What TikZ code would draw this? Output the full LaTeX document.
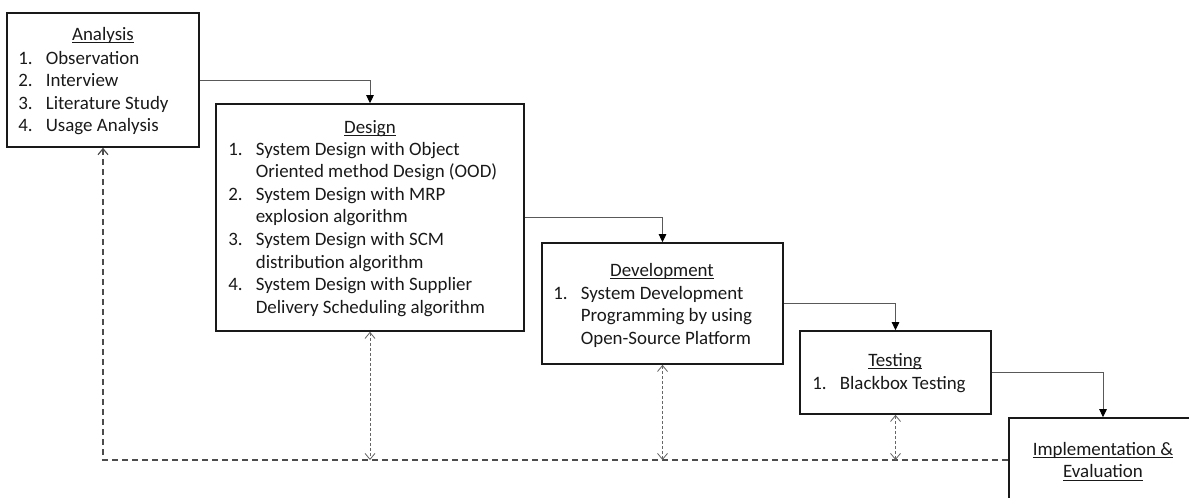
\documentclass[tikz,border=0pt]{standalone}
\usepackage{fontspec}
\setmainfont{Carlito}
\usetikzlibrary{arrows.meta,fit}
% underlined heading whose rule sits just below the baseline
\newcommand{\heading}[1]{\underline{\smash{#1}}}
\newcommand{\itemrows}[1]{\begin{tabular}[t]{@{}p{16.5pt}@{}l@{}}#1\end{tabular}}
\begin{document}
\begin{tikzpicture}[x=0.6pt,y=-0.6pt,
  every node/.style={font=\fontsize{11.35}{13.56}\selectfont, text=black!90},
  phase/.style={draw=black!90, line width=1pt, rectangle, inner sep=0pt},
  caption/.style={anchor=base, inner sep=0pt},
  itemlist/.style={anchor=base west, inner sep=0pt, align=left},
  flow/.style={draw=black!65, line width=0.6pt,
    -{Triangle[length=4.8pt,width=4.5pt,fill=black,color=black]}},
  feedback/.style={draw=black!70, line width=0.7pt, dash pattern=on 3.6pt off 2.4pt,
    {Straight Barb[length=3.6pt,width=6pt]}-},
  recheck/.style={draw=black!60, line width=0.5pt, dash pattern=on 1.8pt off 1.2pt,
    {Straight Barb[length=3.6pt,width=6pt]}-{Straight Barb[length=3.6pt,width=6pt]}}
]
\useasboundingbox (0,0) rectangle (1189,497);
\clip (0,0) rectangle (1189,497);

% corners of the phase boxes
\coordinate (a1) at (7,13);     \coordinate (a2) at (199,147);
\coordinate (d1) at (216,104);  \coordinate (d2) at (524,331);
\coordinate (v1) at (542,243);  \coordinate (v2) at (783,364);
\coordinate (t1) at (800,331);  \coordinate (t2) at (991,414);
\coordinate (i1) at (1009,418); \coordinate (i2) at (1197,502);

% phase boxes
\node[phase, fit=(a1)(a2)] (analysis) {};
\node[phase, fit=(d1)(d2)] (design) {};
\node[phase, fit=(v1)(v2)] (development) {};
\node[phase, fit=(t1)(t2)] (testing) {};
\node[phase, fit=(i1)(i2)] (impl) {};

% box contents
\node[caption] (antitle) at (103,40) {\heading{Analysis}};
\node[itemlist] (anitems) at (18,64) {\itemrows{
  1. & Observation\\
  2. & Interview\\
  3. & Literature Study\\
  4. & Usage Analysis}};

\node[caption] (detitle) at (370,133) {\heading{Design}};
\node[itemlist] (deitems) at (228,155) {\itemrows{
  1. & System Design with Object\\
     & Oriented method Design (OOD)\\
  2. & System Design with MRP\\
     & explosion algorithm\\
  3. & System Design with SCM\\
     & distribution algorithm\\
  4. & System Design with Supplier\\
     & Delivery Scheduling algorithm}};

\node[caption] (dvtitle) at (662,276) {\heading{Development}};
\node[itemlist] (dvitems) at (553,299) {\itemrows{
  1. & System Development\\
     & Programming by using\\
     & Open-Source Platform}};

\node[caption] (tetitle) at (895,366) {\heading{Testing}};
\node[itemlist] (teitems) at (812,389) {\itemrows{
  1. & Blackbox Testing}};

\node[caption] (imtitle) at (1103,455) {\begin{tabular}[t]{@{}c@{}}
  \heading{Implementation \&}\\ \heading{Evaluation}\end{tabular}};

% forward flow between phases
\draw[flow] (analysis.east) -| (design.north);
\draw[flow] (design.east) -| (development.north);
\draw[flow] (development.east) -| (testing.north);
\draw[flow] (testing.east) -| (impl.north);

% feedback path back to analysis
\draw[feedback] (analysis.south) |- (impl.west);
\coordinate (dejoin) at (design.south |- impl.west);
\coordinate (dvjoin) at (development.south |- impl.west);
\coordinate (tejoin) at (testing.south |- impl.west);
\draw[recheck] (design.south) -- (dejoin);
\draw[recheck] (development.south) -- (dvjoin);
\draw[recheck] (testing.south) -- (tejoin);
\end{tikzpicture}
\end{document}
